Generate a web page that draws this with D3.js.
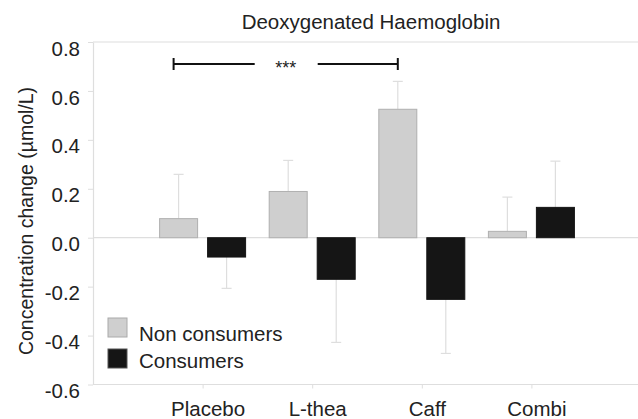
<!DOCTYPE html>
<html>
<head>
<meta charset="utf-8">
<script src="https://cdn.jsdelivr.net/npm/d3@7"></script>
<style>
  body { margin: 0; background: #fff; }
  text { font-family: "Liberation Sans", Arial, sans-serif; fill: #222; }
</style>
</head>
<body>
<div class="canva"></div>
<script>
// values
const categories = ["Placebo", "L-thea", "Caff", "Combi"]
const nonConsumers = [0.078, 0.189, 0.525, 0.026]
const nonConsumersErr = [0.259, 0.316, 0.639, 0.166]   // end of error bar
const consumers = [-0.079, -0.170, -0.252, 0.124]
const consumersErr = [-0.207, -0.428, -0.473, 0.313]
const yTicks = [0.8, 0.6, 0.4, 0.2, 0.0, -0.2, -0.4, -0.6]
const legendLabels = ["Non consumers", "Consumers"]

const W = 638, H = 419
const mLeft = 93, mRight = 641, mTop = 42, mBottom = 384.5
const barW = 39, gap = 9
const colors = ["#cfcfcf", "#151515"]
const strokes = ["#b0b0b0", "#151515"]
const faint = "#dedede"

const svg = d3.select(".canva").append("svg")
  .attr("width", W).attr("height", H)

const x = d3.scalePoint().domain(categories).range([mLeft, mRight]).padding(1)
const y = d3.scaleLinear().domain([-0.6, 0.8]).range([mBottom, mTop])

// frame lines: top, zero, bottom
svg.selectAll("line.hline")
  .data([0.8, 0, -0.6])
  .enter().append("line")
  .attr("class", "hline")
  .attr("x1", mLeft).attr("x2", W)
  .attr("y1", d => y(d)).attr("y2", d => y(d))
  .attr("stroke", faint).attr("stroke-width", 1.2)

// y axis (plain hyphen for negatives, like the original)
const yAxis = svg.append("g")
  .attr("transform", `translate(${mLeft},0)`)
  .call(d3.axisLeft(y).tickValues(yTicks).tickFormat(d => d.toFixed(1))
    .tickSize(5).tickSizeOuter(0).tickPadding(8))
yAxis.select(".domain").attr("stroke", faint).attr("stroke-width", 1.2)
yAxis.selectAll(".tick line").attr("stroke", faint)
yAxis.selectAll("text").attr("dy", "0.64em")
  .style("font-size", "20.5px").style("font-family", "Liberation Sans, Arial, sans-serif").attr("fill", "#222")

// x axis
const xAxis = svg.append("g")
  .attr("transform", `translate(0,${mBottom})`)
  .call(d3.axisBottom(x).tickSize(4).tickSizeOuter(0).tickPadding(13))
xAxis.select(".domain").remove()
xAxis.selectAll(".tick line").attr("stroke", faint)
xAxis.selectAll("text").attr("dx", 5)
  .style("font-size", "20.5px").style("font-family", "Liberation Sans, Arial, sans-serif").attr("fill", "#222")

// bars
const series = [
  { vals: nonConsumers, err: nonConsumersErr, off: -(gap / 2 + barW / 2) },
  { vals: consumers, err: consumersErr, off: gap / 2 + barW / 2 }
]

series.forEach((s, si) => {
  const g = svg.append("g")

  g.selectAll("line.err")
    .data(s.vals)
    .enter().append("line")
    .attr("x1", (d, i) => x(categories[i]) + s.off)
    .attr("x2", (d, i) => x(categories[i]) + s.off)
    .attr("y1", d => y(d))
    .attr("y2", (d, i) => y(s.err[i]))
    .attr("stroke", faint).attr("stroke-width", 1.2)

  g.selectAll("line.cap")
    .data(s.err)
    .enter().append("line")
    .attr("x1", (d, i) => x(categories[i]) + s.off - 5)
    .attr("x2", (d, i) => x(categories[i]) + s.off + 5)
    .attr("y1", d => y(d)).attr("y2", d => y(d))
    .attr("stroke", faint).attr("stroke-width", 1.2)

  g.selectAll("rect")
    .data(s.vals)
    .enter().append("rect")
    .attr("x", (d, i) => x(categories[i]) + s.off - barW / 2 + 0.5)
    .attr("width", barW - 1)
    .attr("y", d => y(Math.max(0, d)))
    .attr("height", d => Math.abs(y(d) - y(0)))
    .attr("fill", colors[si])
    .attr("stroke", strokes[si])
})

// significance bracket Placebo vs Caff
const bx1 = x("Placebo") + series[0].off - 5
const bx2 = x("Caff") + series[0].off
const by = y(0.71)
const bmid = (bx1 + bx2) / 2
const br = svg.append("g").attr("stroke", "#111").attr("stroke-width", 2)
br.append("line").attr("x1", bx1).attr("x2", bmid - 31).attr("y1", by).attr("y2", by)
br.append("line").attr("x1", bmid + 32).attr("x2", bx2).attr("y1", by).attr("y2", by)
br.append("line").attr("x1", bx1).attr("x2", bx1).attr("y1", by - 6).attr("y2", by + 6)
br.append("line").attr("x1", bx2).attr("x2", bx2).attr("y1", by - 6).attr("y2", by + 6)
svg.append("text").text("***")
  .attr("x", bmid).attr("y", by + 10)
  .attr("text-anchor", "middle").style("font-size", "18px")

// title
svg.append("text").text("Deoxygenated Haemoglobin")
  .attr("x", 371).attr("y", 29)
  .attr("text-anchor", "middle").style("font-size", "20.5px")

// y title
svg.append("text").text("Concentration change (µmol/L)")
  .attr("transform", "translate(33,221) rotate(-90)")
  .attr("text-anchor", "middle").style("font-size", "19.5px")

// legend
const legend = svg.selectAll("g.leg")
  .data(legendLabels)
  .enter().append("g")
  .attr("transform", (d, i) => `translate(108,${318 + i * 31})`)
legend.append("rect")
  .attr("width", 19).attr("height", 19)
  .attr("fill", (d, i) => colors[i])
  .attr("stroke", (d, i) => i == 0 ? "#aaaaaa" : "#555")
legend.append("text").text(d => d)
  .attr("x", 31).attr("y", (d, i) => i == 0 ? 23 : 19)
  .style("font-size", "20.5px")
</script>
</body>
</html>
